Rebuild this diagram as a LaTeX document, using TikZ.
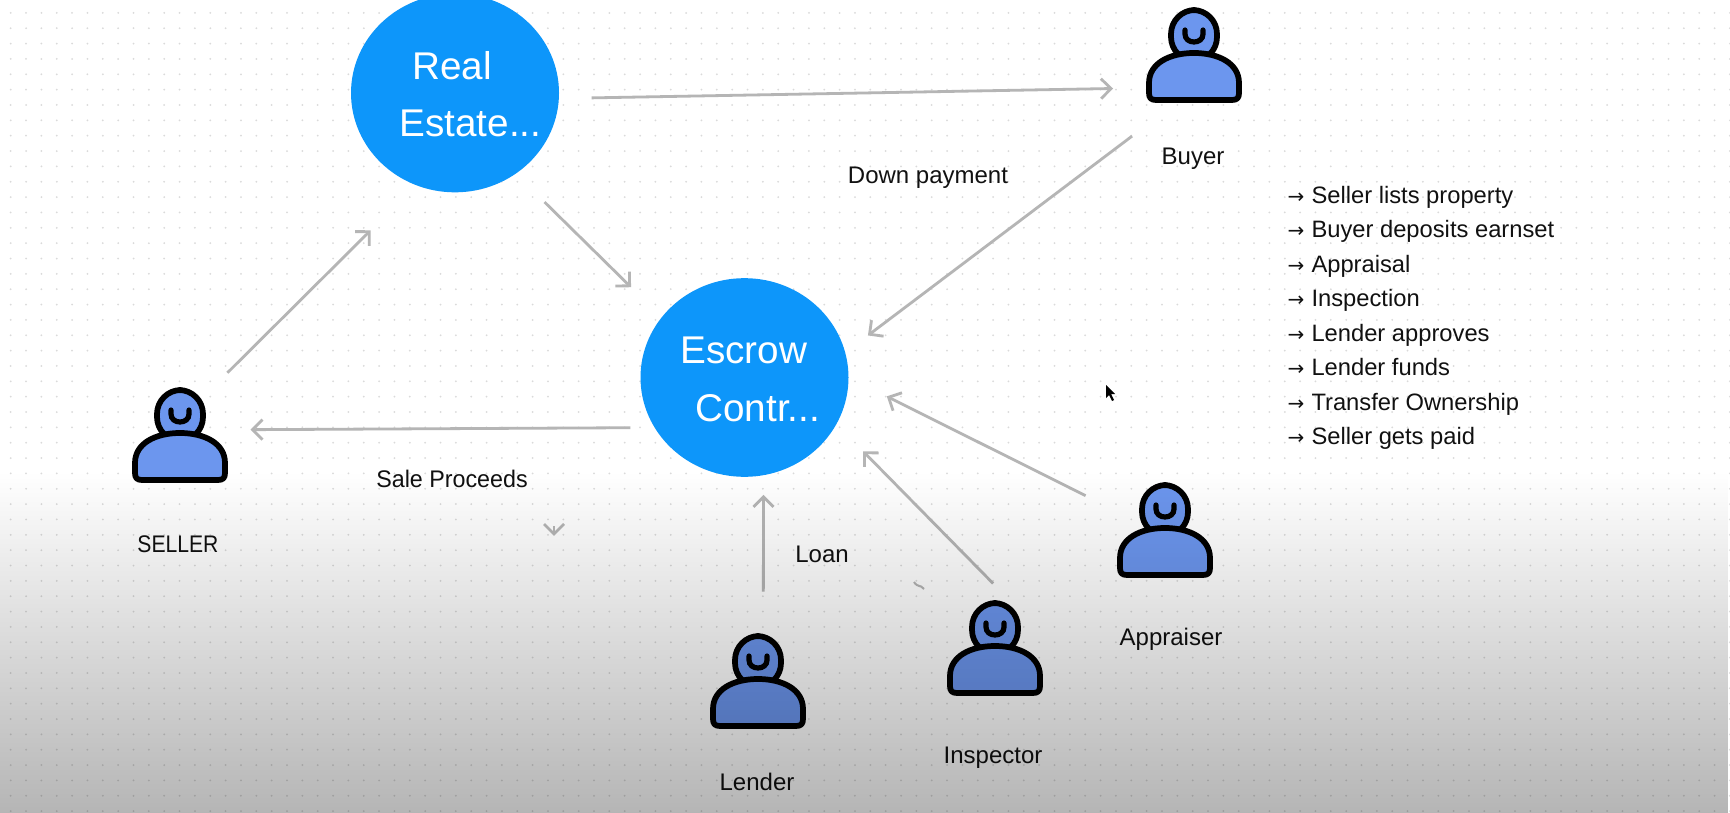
\documentclass[tikz,border=0pt]{standalone}
\usepackage{fontspec}
\setmainfont{Liberation Sans}
\newfontfamily\arrowfont{DejaVu Sans}
\usetikzlibrary{arrows.meta,fadings,shapes.geometric}

\definecolor{ballblue}{RGB}{13,150,250}
\definecolor{personblue}{RGB}{108,150,238}
\definecolor{flowgray}{RGB}{181,181,181}
\definecolor{dotgray}{RGB}{218,218,218}
\definecolor{inkblack}{RGB}{17,17,17}

\tikzfading[name=fadedown, top color=transparent!100, bottom color=transparent!71]

\newcommand{\stepmark}{\makebox[18pt][l]{\arrowfont\fontsize{15}{16}\selectfont →}}

\tikzset{
  every picture/.style={line width=0.75pt},
  ball/.style={ellipse,fill=ballblue,minimum width=156pt,minimum height=149pt,inner sep=0pt},
  balltext/.style={anchor=base west,inner sep=0pt,text=white,font=\fontsize{29}{32}\selectfont},
  personbox/.style={circle,minimum size=90pt,inner sep=0pt},
  persontext/.style={anchor=base,inner sep=0pt,text=inkblack,font=\fontsize{18}{20}\selectfont},
  steptext/.style={anchor=base west,inner sep=0pt,text=inkblack,font=\fontsize{17.8}{20}\selectfont},
  flow/.style={draw=flowgray,line width=2.1pt,-{Straight Barb[length=7.5pt,width=15pt]}},
  personline/.style={draw=black,fill=personblue,line width=4.3pt,line join=round},
  personicon/.pic={
    \draw[personline,rounded corners=18pt] (-23,-45) rectangle (23,6);
    \draw[personline] (-45,38) -- (-45,28) .. controls (-45,8) and (-24,-2) .. (0,-2) .. controls (24,-2) and (45,8) .. (45,28) -- (45,38) .. controls (45,43) and (43,45) .. (38,45) -- (-38,45) .. controls (-43,45) and (-45,43) .. (-45,38) -- cycle;
    \draw[black,line width=3.9pt,line cap=round] (-9,-25) -- (-9,-21) .. controls (-9,-16) and (-5,-13) .. (0,-13) .. controls (5,-13) and (9,-16) .. (9,-21) -- (9,-25);
  }
}

\begin{document}
\begin{tikzpicture}[x=0.75pt,y=0.75pt,yscale=-1,xscale=1]
\useasboundingbox (0,0) rectangle (1730,813);
\fill[white] (0,0) rectangle (1730,813);

%Dot grid
\foreach \i in {0,...,112}
  \foreach \j in {-1,0,...,52}
    \fill[dotgray] (\i*15.35+10.7,\j*15.35+12.9) circle (1);

%Circles
\node[ball] (realestate) at (455,93) {};
\node[ball] (escrow) at (744.5,377.5) {};

%Persons
\node[personbox] (buyer) at (1194,55) {};
\node[personbox] (seller) at (180,435) {};
\node[personbox] (lender) at (758,681) {};
\node[personbox] (inspector) at (995,648) {};
\node[personbox] (appraiser) at (1165,530) {};
\foreach \who in {buyer,seller,lender,inspector,appraiser}
  \pic[yscale=-1] at (\who) {personicon};

%Straight Lines
\draw[flow,shorten <=24.2pt,shorten >=22.7pt] (realestate.-3) -- (buyer.213.9);
\draw[flow,shorten <=33.3pt,shorten >=21pt] (buyer.244.8) -- (escrow.14.06);
\draw[flow,shorten <=30pt,shorten >=31.9pt] (realestate.-53.2) -- (escrow.144);
\draw[flow,shorten <=13.5pt,shorten >=47.6pt] (seller.55.2) -- (realestate.247.1);
\draw[flow,shorten <=17.8pt,shorten >=7.7pt] (escrow.209.7) -- (seller.5.7);
\draw[flow,shorten <=21.9pt,shorten >=14.4pt] (lender.85.2) -- (escrow.-79);
\draw[flow,shorten <=4.3pt,shorten >=28.3pt] (inspector.88) -- (escrow.-27.3);
\draw[flow,shorten <=19.6pt,shorten >=31.7pt] (appraiser.158) -- (escrow.-0.8);

%Stray marks
\draw[flowgray,line width=2.1pt] (544,524) -- (554,534) -- (564,524);
\draw[flowgray,line width=2.1pt] (554,526) -- (554,534);
\draw[flowgray,line width=1.5pt] (914,582) .. controls (918,588) and (920,584) .. (924,589);
\fill[black] (1106,385) -- (1106,398) -- (1109,395) -- (1112,401) -- (1114,400) -- (1111,394) -- (1115,394) -- cycle;

% Text Node
\node[balltext] (realtext) at (412,80) {Real};
\node[balltext] (estatetext) at (399,137) {Estate...};
\node[balltext] (escrowtext) at (680,363) {Escrow};
\node[balltext] (contrtext) at (695,421) {Contr...};
% Text Node
\node[persontext] (buyertext) at (1193,164.5) {Buyer};
\node[persontext] (sellertext) at (178,552) {\scalebox{.88}[1]{SELLER}};
\node[persontext] (appraisertext) at (1171,645) {Appraiser};
\node[persontext] (inspectortext) at (993,763) {Inspector};
\node[persontext] (lendertext) at (757,790) {Lender};
\node[persontext] (loantext) at (822,562) {Loan};
\node[persontext] (proceedstext) at (452,487) {\scalebox{.97}[1]{Sale Proceeds}};
\node[persontext] (paymenttext) at (928,183) {Down payment};
% Text Node
\node[steptext] (step1) at (1287,203) {\stepmark Seller lists property};
\node[steptext] (step2) at (1287,237.5) {\stepmark Buyer deposits earnset};
\node[steptext] (step3) at (1287,272) {\stepmark Appraisal};
\node[steptext] (step4) at (1287,306.5) {\stepmark Inspection};
\node[steptext] (step5) at (1287,341) {\stepmark Lender approves};
\node[steptext] (step6) at (1287,375.5) {\stepmark Lender funds};
\node[steptext] (step7) at (1287,410) {\stepmark Transfer Ownership};
\node[steptext] (step8) at (1287,444.5) {\stepmark Seller gets paid};

%Grey wash over the lower part
\fill[black,path fading=fadedown] (0,472) rectangle (1730,813);

\end{tikzpicture}
\end{document}
